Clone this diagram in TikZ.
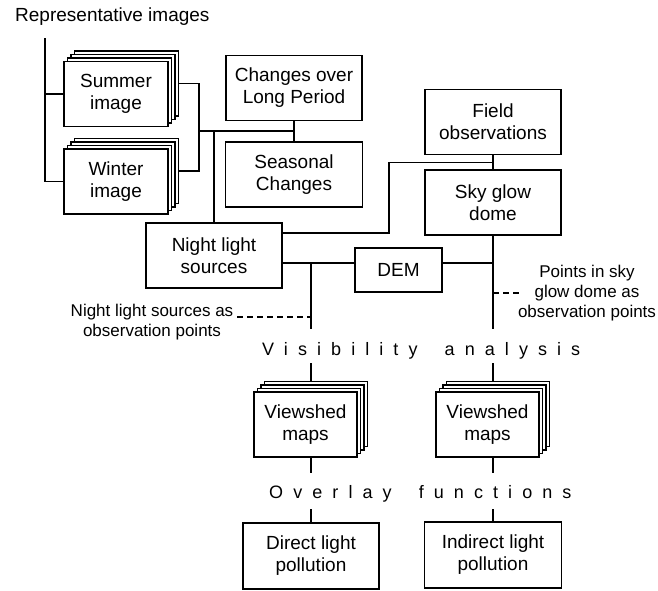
\documentclass[tikz,border=0pt]{standalone}
\usepackage{fontspec}
\setmainfont{Liberation Sans}
\begin{document}
\begin{tikzpicture}[x=1pt,y=-1pt,
  every node/.style={font=\fontsize{19}{22}\selectfont},
  box/.style={draw, line width=1.1pt, fill=white, align=center, inner sep=0pt, minimum width=136pt, minimum height=65pt},
  sheet/.style={draw, line width=1.1pt, fill=white, align=center, inner sep=0pt, minimum width=104pt, minimum height=65pt},
  conn/.style={line width=1.1pt},
  dashconn/.style={line width=1.1pt, dash pattern=on 6pt off 4pt},
  lbl/.style={align=center, inner sep=0pt, font=\fontsize{17}{20}\selectfont},
  spaced/.style={inner sep=0pt, anchor=base west, font=\fontsize{18}{22}\selectfont\addfontfeature{LetterSpace=56}}
]
\useasboundingbox (0,0) rectangle (658,590);

% title
\node[inner sep=0pt, anchor=base west] (title) at (15,21) {Representative images};

% Summer stack
\node[sheet] (sumB) at (126.5,83.5) {};
\node[sheet] at (123,87) {};
\node[sheet] at (119.5,90.5) {};
\node[sheet] (summer) at (116,94) {Summer\\image};
% Winter stack
\node[sheet] (winB) at (126.5,171) {};
\node[sheet] at (123,174.5) {};
\node[sheet] at (119.5,178) {};
\node[sheet] (winter) at (116,181.5) {Winter\\image};

\node[box] (changes) at (294,88) {Changes over\\Long Period};
\node[box, minimum width=137pt] (seasonal) at (294,174.5) {Seasonal\\Changes};
\node[box] (field) at (493,122) {Field\\observations};
\node[box] (sky) at (493,202.5) {Sky glow\\dome};
\node[box] (night) at (214,255.5) {Night light\\sources};
\node[box, minimum width=87pt, minimum height=44pt] (dem) at (398.5,270) {DEM};

% Viewshed stacks
\node[sheet, minimum width=103pt] (vs1B) at (316,414) {};
\node[sheet, minimum width=103pt] at (312.5,417.5) {};
\node[sheet, minimum width=103pt] at (309,421) {};
\node[sheet, minimum width=103pt] (vs1) at (305.5,424.5) {Viewshed\\maps};
\node[sheet, minimum width=103pt] (vs2B) at (498,414) {};
\node[sheet, minimum width=103pt] at (494.5,417.5) {};
\node[sheet, minimum width=103pt] at (491,421) {};
\node[sheet, minimum width=103pt] (vs2) at (487.5,424.5) {Viewshed\\maps};

\node[box, minimum height=66pt] (direct) at (311,556) {Direct light\\pollution};
\node[box, minimum width=137pt, minimum height=66pt] (indirect) at (493,555) {Indirect light\\pollution};

% labels
\node[lbl] (nlsTxt) at (152,322) {Night light sources as\\observation points};
\node[lbl] (skyTxt) at (587,293) {Points in sky\\glow dome as\\observation points};
\node[spaced] (vis) at (262,355) {Visibility\hspace{12pt} analysis};
\node[spaced] (ovl) at (269,498) {Overlay\hspace{12pt} functions};

% coordinates
\coordinate (rtop) at (45,38);
\coordinate (br) at (199,131);
\coordinate (j1) at (493,162.5);
\coordinate (k1) at (389,233);
\coordinate (k2) at (311,263);
\coordinate (vL) at (311,329);
\coordinate (vR) at (493,329);
\coordinate (dL) at (237,317);
\coordinate (dR) at (522,293);
\coordinate (vLb) at (311,363);
\coordinate (vRb) at (493,363);
\coordinate (oL) at (311,473);
\coordinate (oR) at (493,473);
\coordinate (pL) at (311,509);
\coordinate (pR) at (493,509);

% connectors
\draw[conn] (rtop) |- (winter.west);
\draw[conn] (summer.west) -- (summer.west -| rtop);
\draw[conn] (sumB.east) -| (br) |- (winB.east);
\draw[conn] (br) -- (br -| changes.south);
\draw[conn] (changes.south) -- (seasonal.north);
\draw[conn] (br -| night.north) -- (night.north);
\draw[conn] (field.south) -- (sky.north);
\draw[conn] (j1) -| (k1) -- (k1 -| night.east);
\draw[conn] (night.east |- k2) -- (dem.west |- k2);
\draw[conn] (dem.east |- k2) -- (k2 -| sky.south);
\draw[conn] (k2) -- (vL);
\draw[conn] (sky.south) -- (vR);
\draw[dashconn] (dL) -- (dL -| vL);
\draw[dashconn] (dR -| vR) -- (dR);
\draw[conn] (vLb) -- (vLb |- vs1B.north);
\draw[conn] (vRb) -- (vRb |- vs2B.north);
\draw[conn] (vs1.south -| oL) -- (oL);
\draw[conn] (vs2.south -| oR) -- (oR);
\draw[conn] (pL) -- (direct.north);
\draw[conn] (pR) -- (indirect.north);
\end{tikzpicture}
\end{document}
